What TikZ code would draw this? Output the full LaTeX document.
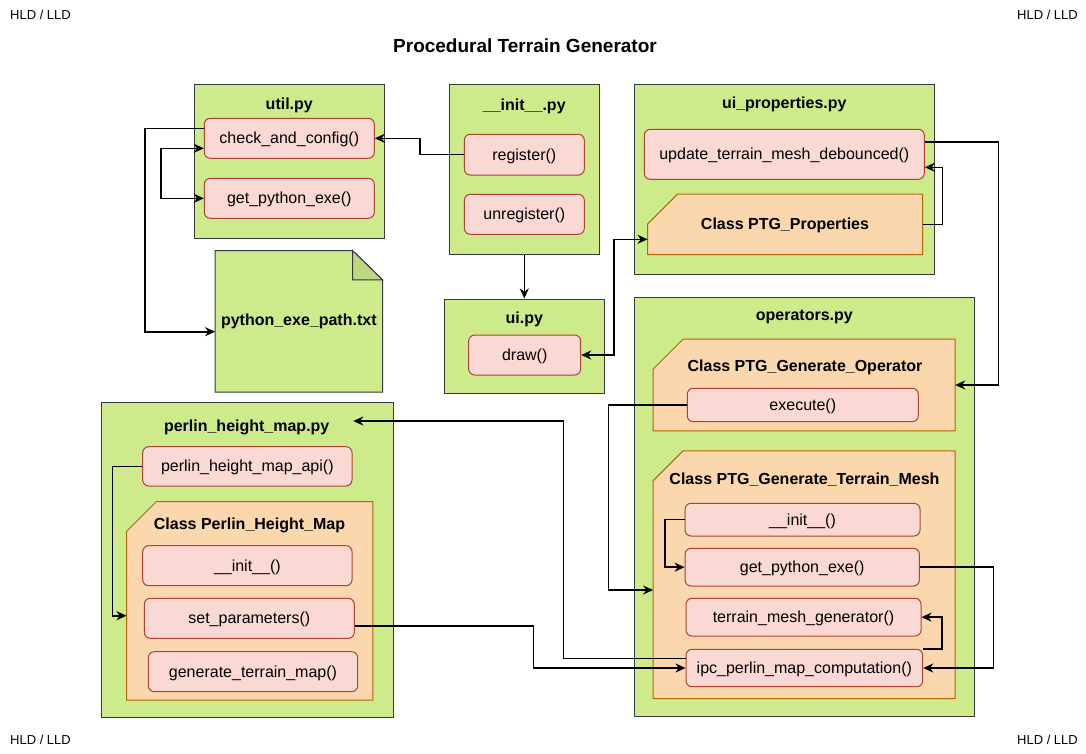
\documentclass[tikz,border=0pt]{standalone}
\usepackage{fontspec}
\setmainfont{Liberation Sans}
\usetikzlibrary{arrows.meta,calc}
\definecolor{grfill}{HTML}{CDEB8B}
\definecolor{grline}{HTML}{36393D}
\definecolor{pkfill}{HTML}{FAD9D5}
\definecolor{pkline}{HTML}{AE4132}
\definecolor{orfill}{HTML}{FAD7AC}
\definecolor{orline}{HTML}{B46504}
\newcommand{\fsn}{\fontsize{16}{19}\selectfont}
\begin{document}
\begin{tikzpicture}[x=1pt,y=-1pt,
  module/.style={draw=grline, fill=grfill, line width=1pt, inner sep=0pt},
  modtitle/.style={font=\fsn\bfseries, inner sep=0pt},
  fn/.style={draw=pkline, fill=pkfill, rounded corners=6pt, line width=1pt, inner sep=0pt, font=\fsn, text height=14pt, text depth=3pt},
  clsbox/.style={inner sep=0pt},
  clsline/.style={draw=orline, fill=orfill, line width=1pt},
  notebox/.style={inner sep=0pt, font=\fsn\bfseries},
  conn/.style={line width=1.6pt, black, -{Stealth[length=10pt,width=9pt]}},
  conn2/.style={line width=1.6pt, black, {Stealth[length=10pt,width=9pt]}-{Stealth[length=10pt,width=9pt]}},
  corner/.style={font=\fontsize{13}{15}\selectfont, inner sep=0pt}
]
\useasboundingbox (0,0) rectangle (1086,753);
\fill[white] (0,0) rectangle (1086,753);

% corner labels and title
\node[corner] (c1) at (40.5,15) {HLD / LLD};
\node[corner] (c2) at (1047.5,15) {HLD / LLD};
\node[corner] (c3) at (40.5,740) {HLD / LLD};
\node[corner] (c4) at (1047.5,740) {HLD / LLD};
\node[font=\fontsize{19}{22}\selectfont\bfseries, inner sep=0pt] (title) at (525,46) {Procedural Terrain Generator};

% util.py
\node[module, minimum width=190pt, minimum height=153.3pt] (util) at (289.3,161.35) {};
\node[modtitle] (utilt) at (289.3,105) {util.py};
\node[fn, minimum width=170pt, minimum height=40pt] (cac) at (289.3,138.3) {check\_and\_config()};
\node[fn, minimum width=170pt, minimum height=40pt] (gpe1) at (289.3,198.3) {get\_python\_exe()};

% note
\node[notebox, minimum width=167pt, minimum height=141.3pt] (note) at (298.8,321.35) {};
\draw[draw=grline, fill=grfill, line width=1pt] (note.south west) -- (note.north west) -- ([xshift=-30pt]note.north east) -- ([yshift=-29.3pt]note.north east) -- (note.south east) -- cycle;
\draw[draw=grline, fill=grfill!92!black, line width=1pt] ([xshift=-30pt]note.north east) -- ([xshift=-30pt,yshift=-29.3pt]note.north east) -- ([yshift=-29.3pt]note.north east) -- cycle;
\node[notebox] (notet) at (note.center) {python\_exe\_path.txt};

% __init__.py
\node[module, minimum width=150pt, minimum height=169.3pt] (init) at (524.3,169.35) {};
\node[modtitle] (initt) at (524.3,106) {\_\_init\_\_.py};
\node[fn, minimum width=120pt, minimum height=40.7pt] (reg) at (524.3,154.65) {register()};
\node[fn, minimum width=120pt, minimum height=40pt] (unreg) at (524.3,214.3) {unregister()};

% ui.py
\node[module, minimum width=160pt, minimum height=94.3pt] (ui) at (524.3,346.15) {};
\node[modtitle] (uit) at (524.3,319.3) {ui.py};
\node[fn, minimum width=112pt, minimum height=40pt] (draw) at (524.7,355) {draw()};

% ui_properties.py
\node[module, minimum width=300pt, minimum height=190pt] (uiprop) at (784.3,179.3) {};
\node[modtitle] (uipropt) at (784.3,104) {ui\_properties.py};
\node[fn, minimum width=280pt, minimum height=50pt] (upd) at (784.3,154.3) {update\_terrain\_mesh\_debounced()};
\node[clsbox, minimum width=274.6pt, minimum height=60pt] (ptgprop) at (785,224.3) {};
\draw[clsline] ([yshift=-30pt]ptgprop.north west) -- ([xshift=30pt]ptgprop.north west) -- (ptgprop.north east) -- (ptgprop.south east) -- (ptgprop.south west) -- cycle;
\node[modtitle] (ptgpropt) at (785,225.7) {Class PTG\_Properties};

% operators.py
\node[module, minimum width=340pt, minimum height=419pt] (ops) at (804.3,507.2) {};
\node[modtitle] (opst) at (804.3,316.7) {operators.py};
\node[clsbox, minimum width=301.7pt, minimum height=91.4pt] (genop) at (804.15,385) {};
\draw[clsline] ([yshift=-30pt]genop.north west) -- ([xshift=30pt]genop.north west) -- (genop.north east) -- (genop.south east) -- (genop.south west) -- cycle;
\node[modtitle] (genopt) at (805,367.3) {Class PTG\_Generate\_Operator};
\node[fn, minimum width=231pt, minimum height=33.4pt] (exec) at (802.8,405) {execute()};
\node[clsbox, minimum width=301.7pt, minimum height=247.3pt] (terr) at (804.15,574.65) {};
\draw[clsline] ([yshift=-30pt]terr.north west) -- ([xshift=30pt]terr.north west) -- (terr.north east) -- (terr.south east) -- (terr.south west) -- cycle;
\node[modtitle] (terrt) at (804.5,480) {Class PTG\_Generate\_Terrain\_Mesh};
\node[fn, minimum width=235pt, minimum height=32.7pt] (init2) at (802.5,519.65) {\_\_init\_\_()};
\node[fn, minimum width=234.3pt, minimum height=37.7pt] (gpe2) at (802.2,567.15) {get\_python\_exe()};
\node[fn, minimum width=235pt, minimum height=37.7pt] (tmg) at (803.5,617.15) {terrain\_mesh\_generator()};
\node[fn, minimum width=236.7pt, minimum height=37.4pt] (ipc) at (804.35,668) {ipc\_perlin\_map\_computation()};

% perlin_height_map.py
\node[module, minimum width=291.6pt, minimum height=315pt] (perlin) at (247.5,559.8) {};
\node[modtitle] (perlint) at (246.7,427.7) {perlin\_height\_map.py};
\node[fn, minimum width=209.3pt, minimum height=39.3pt] (api) at (247.35,466.35) {perlin\_height\_map\_api()};
\node[clsbox, minimum width=246pt, minimum height=198.3pt] (phm) at (249.7,600.85) {};
\draw[clsline] ([yshift=-30pt]phm.north west) -- ([xshift=30pt]phm.north west) -- (phm.north east) -- (phm.south east) -- (phm.south west) -- cycle;
\node[modtitle] (phmt) at (249.5,525) {Class Perlin\_Height\_Map};
\node[fn, minimum width=209.3pt, minimum height=40pt] (init3) at (247.35,565.7) {\_\_init\_\_()};
\node[fn, minimum width=210pt, minimum height=40pt] (setp) at (249.3,618.3) {set\_parameters()};
\node[fn, minimum width=209.4pt, minimum height=40pt] (gen) at (253,671.7) {generate\_terrain\_map()};
\coordinate (perlinin) at (353.3,421);

% connectors
\draw[conn] (cac.west |- 0,128.3) -- (145,128.3) -- (145,331.7) -- (note.west |- 0,331.7);
\draw[conn2] (cac.west |- 0,148.3) -- (161,148.3) -- (161,198.3) -- (gpe1.west);
\draw[conn] (reg.west) -- (reg.west -| 420,0) |- (cac.east);
\draw[conn] (init.south) -- (ui.north);
\draw[conn2] (draw.east) -- (draw.east -| 614,0) -- (614,239.3) -- (ptgprop.west |- 0,239.3);
\draw[conn] (ptgprop.east) -- (ptgprop.east -| 942.3,0) -- (942.3,167.3) -- (upd.east |- 0,167.3);
\draw[conn] (upd.east |- 0,141.7) -| (genop.east -| 998.3,0) -- (genop.east);
\draw[conn] (exec.west) -- (exec.west -| 608.3,0) -- (608.3,590) -- (terr.west |- 0,590);
\draw[conn] (init2.west) -- (init2.west -| 665,0) |- (gpe2.west);
\draw[conn] (ipc.north east) -- (ipc.north east -| 941.7,0) |- (tmg.east);
\draw[conn] (gpe2.east) -- (gpe2.east -| 993.3,0) |- (ipc.east);
\draw[conn] (setp.east |- 0,626) -- (533.3,626) -- (533.3,668) -- (ipc.west);
\draw[conn] (ipc.west |- 0,658.3) -- (563.3,658.3) -- (563.3,421) -- (perlinin);
\draw[conn] (api.west) -- (api.west -| 112.3,0) -- (112.3,615.7) -- (phm.west |- 0,615.7);
\end{tikzpicture}
\end{document}
